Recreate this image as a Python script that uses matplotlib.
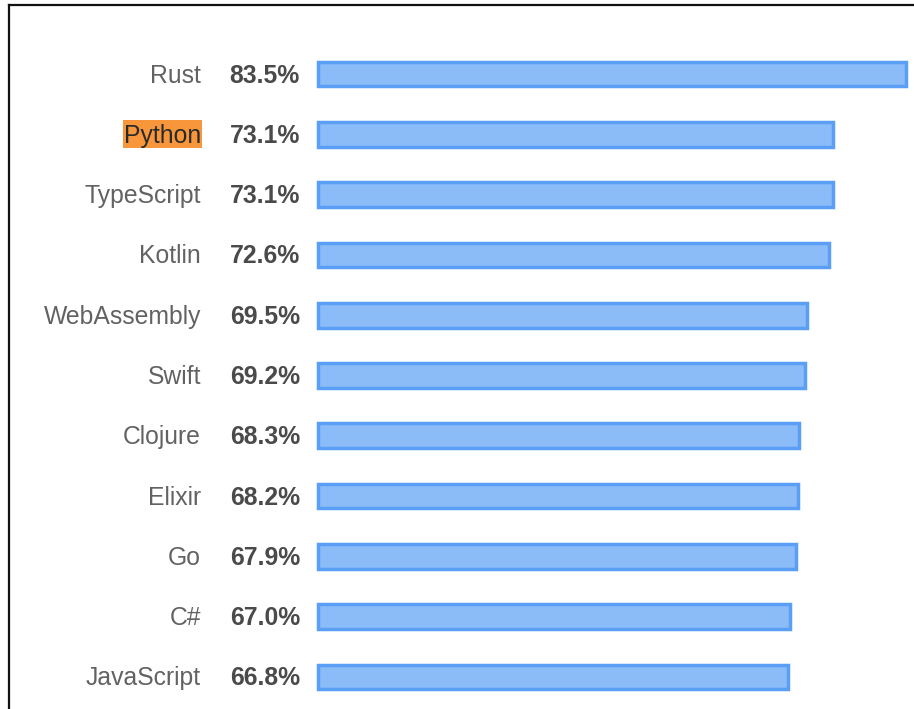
import matplotlib
matplotlib.use("Agg")
import matplotlib.pyplot as plt
from matplotlib.patches import Rectangle
from matplotlib.lines import Line2D

languages = ["Rust", "Python", "TypeScript", "Kotlin", "WebAssembly", "Swift",
             "Clojure", "Elixir", "Go", "C#", "JavaScript"]
values = [83.5, 73.1, 73.1, 72.6, 69.5, 69.2, 68.3, 68.2, 67.9, 67.0, 66.8]
highlight = "Python"

W, H = 914, 709
plt.rcParams['font.family'] = ['Liberation Sans', 'DejaVu Sans']
fig = plt.figure(figsize=(W / 100, H / 100), dpi=100)
fig.patch.set_facecolor("white")

left_px, right_px = 318, 906
top_px, bot_px = 44, 707
ax = fig.add_axes([left_px / W, 1 - bot_px / H, (right_px - left_px) / W, (bot_px - top_px) / H])
ax.set_xlim(0, values[0])
ax.set_ylim(len(languages) - 0.5, -0.5)
ax.axis("off")

ys = list(range(len(languages)))
ax.barh(ys, values, height=0.41, color="#8bbcf8", edgecolor="#5a9ef5",
        linewidth=2.5, clip_on=False)

fs = 17.8
px = 72 / 100
name_texts = {}
for y, name, v in zip(ys, languages, values):
    t = ax.annotate(name, xy=(0, y), xytext=(-117 * px, -1.5 * px), textcoords="offset points",
                    ha="right", va="center", fontsize=fs,
                    color="#2a2a2a" if name == highlight else "#626262", zorder=5)
    name_texts[name] = t
    ax.annotate(f"{v:.1f}%", xy=(0, y), xytext=(-18 * px, -1.5 * px), textcoords="offset points",
                ha="right", va="center", fontsize=fs, fontweight="bold",
                color="#4a4a4a")

# highlight box behind Python label
fig.canvas.draw()
r = fig.canvas.get_renderer()
t = name_texts[highlight]
bb = t.get_window_extent(r)
yc = ax.transData.transform((0, languages.index(highlight)))[1]
rect = Rectangle((bb.x0 - 1, yc - 14), bb.width + 2, 28, transform=None,
                 facecolor="#f7963a", edgecolor="none", zorder=-1)
fig.add_artist(rect)

# frame lines
fig.add_artist(Line2D([9 / W, 9 / W], [0, 1 - 5 / H], color="#111111", linewidth=1.6))
fig.add_artist(Line2D([9 / W, 1], [1 - 5 / H, 1 - 5 / H], color="#111111", linewidth=1.6))

fig.savefig("out.png", dpi=100, facecolor="white")
